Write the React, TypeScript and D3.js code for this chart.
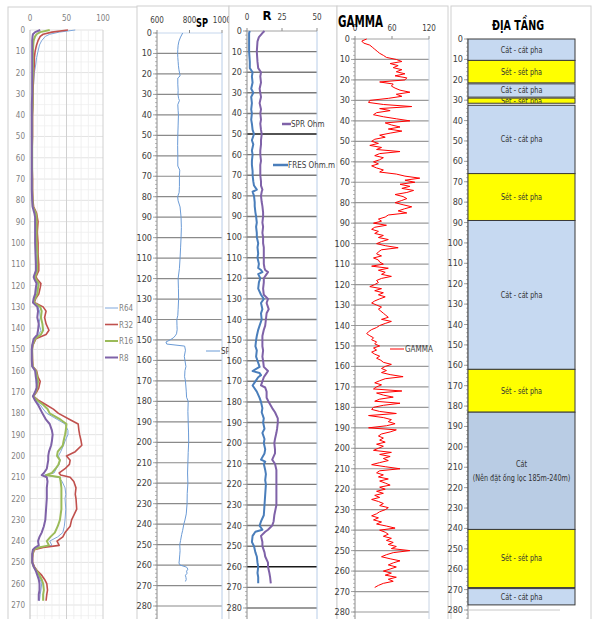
import React from 'react';
import * as d3 from 'd3';

const FONT = '"Liberation Sans Narrow", "DejaVu Sans Condensed", "Liberation Sans", sans-serif';

// ---- panel 1: resistivity curves R64 / R32 / R16 / R8 ----
const p1Depth = [
  0, 1, 2, 3, 5, 7, 10, 13, 16, 20,
  25, 30, 35, 40, 45, 50, 55, 60, 65, 70,
  75, 80, 83, 86, 88, 90, 95, 100, 105, 110,
  113, 116, 117, 119, 121, 124, 126, 128, 130, 132,
  135, 138, 141, 143, 145, 148, 150, 155, 158, 160,
  163, 165, 168, 170, 172, 174, 176, 178, 180, 183,
  185, 188, 190, 193, 195, 198, 200, 202, 204, 206,
  208, 209, 210, 212, 215, 218, 220, 225, 230, 233,
  236, 238, 240, 242, 243, 244, 246, 248, 250, 252,
  254, 256, 258, 260, 263, 265, 268,
];
const r64 = [
  62, 40, 27, 21, 16, 13, 11, 9, 8, 6,
  5, 4, 4, 3.5, 3, 3, 3, 2.5, 2.5, 3,
  3, 3.5, 4, 6, 7, 7, 8, 7.5, 8, 9,
  9, 6, 7, 10, 9, 8, 6, 5, 11, 13,
  14, 12, 15, 12, 6, 3, 2.5, 3, 3, 7,
  9, 8, 10, 7, 4, 8, 14, 18, 23, 38,
  48, 52, 52, 48, 46, 42, 39, 41, 40, 36,
  33, 20, 39, 44, 48, 49, 48, 49, 48, 47,
  45, 38, 27, 30, 12, 5, 3, 3, 3, 5,
  8, 12, 14, 16, 15, 14, 13,
];
const r32 = [
  52, 30, 18, 14, 11, 9, 7, 6, 6, 5,
  4.5, 4, 4, 3.5, 3.5, 3.5, 3, 3, 3, 3.5,
  3.5, 4, 5, 9, 10, 11, 10, 11, 11, 12,
  12, 8, 10, 15, 14, 12, 8, 6, 18, 22,
  20, 22, 26, 22, 8, 4, 3, 3.5, 4, 9,
  11, 14, 12, 9, 5, 12, 22, 32, 39, 55,
  66, 67, 68, 70, 71, 62, 50, 55, 54, 48,
  40, 42, 55, 60, 63, 62, 63, 64, 57, 55,
  48, 45, 37, 40, 18, 6, 4, 3.5, 3.5, 6,
  10, 16, 20, 23, 24, 23, 22,
];
const r16 = [
  27, 14, 9, 7, 5, 4.5, 4, 4, 4, 4,
  3.5, 3.5, 3.5, 3, 3, 3, 3, 3, 3, 3,
  3, 3.5, 4, 8, 9, 9, 9, 9, 10, 10,
  10, 7, 8, 12, 11, 10, 7, 5, 14, 16,
  15, 17, 18, 15, 7, 3.5, 3, 3, 3.5, 8,
  10, 11, 10, 8, 4.5, 10, 18, 24, 27, 42,
  50, 49, 48, 46, 45, 38, 37, 41, 39, 35,
  30, 22, 41, 42, 43, 43, 43, 43, 41, 38,
  34, 28, 23, 26, 12, 5, 3.5, 3, 3, 5,
  9, 13, 16, 18, 19, 18, 18,
];
const r8 = [
  14, 7, 4, 3.5, 3, 3, 3, 3, 3, 3,
  3, 3, 2.5, 2.5, 2.5, 2.5, 2.5, 2.5, 2.5, 2.5,
  2.5, 3, 3.5, 6, 7, 7, 7, 7, 7.5, 8,
  8, 5, 6, 9, 8, 7, 5, 4, 10, 11,
  10, 12, 11, 10, 5, 3, 2.5, 2.5, 3, 7,
  8, 9, 9, 7, 4, 7, 11, 14, 17, 22,
  27, 30, 31, 30, 29, 26, 25, 25, 24, 23,
  19, 16, 23, 24, 23, 23, 23, 22, 21, 19,
  16, 13, 11, 12, 7, 4, 3, 3, 3, 5,
  8, 10, 12, 13, 13, 12, 12,
];
const p1Names = ['R64', 'R32', 'R16', 'R8'];
const p1Colors = ['#7ea7dc', '#c0504d', '#9bbb59', '#7f62a8'];
const p1Widths = [1, 1.6, 2, 2];

// ---- panel 2: SP [depth, value] ----
const spLog: [number, number][] = [
  [0, 758], [2, 745], [4, 735], [6, 730], [8, 728], [10, 727], [12, 728], [14, 730], [16, 732],
  [18, 735], [20, 740], [21, 742], [22, 728], [25, 728], [28, 730], [30, 729], [32, 733], [33, 738],
  [35, 728], [38, 730], [40, 732], [45, 730], [50, 728], [55, 727], [60, 728], [65, 728], [67, 740],
  [70, 738], [75, 738], [78, 736], [80, 727], [82, 730], [85, 742], [90, 748], [95, 750], [100, 748],
  [105, 745], [110, 742], [115, 738], [120, 730], [125, 732], [130, 733], [135, 730], [138, 728],
  [140, 722], [143, 723], [145, 724], [147, 720], [148, 712], [149, 700], [150, 680], [151, 655],
  [152, 660], [153, 770], [155, 775], [158, 768], [160, 772], [163, 778], [165, 772], [168, 770],
  [170, 775], [173, 778], [175, 780], [178, 782], [180, 792], [185, 790], [190, 792], [195, 794],
  [200, 795], [205, 792], [210, 790], [215, 788], [220, 790], [225, 786], [230, 785], [235, 780],
  [238, 772], [240, 765], [243, 758], [245, 752], [248, 745], [250, 740], [253, 742], [255, 740],
  [258, 737], [259, 735], [260, 742], [261, 782], [262, 790], [263, 782], [264, 785], [265, 775],
  [266, 778], [267, 780], [268, 775],
];

// ---- panel 3: [depth, SPR Ohm, FRES Ohm.m] ----
const rLog: [number, number, number][] = [
  [0, 12.5, 2], [1, 11, 1.5], [3, 8.5, 1.5], [5, 7.5, 1.5], [10, 7, 1.5], [15, 7.5, 2], [18, 8, 2],
  [20, 10, 4], [22, 9.5, 3.5], [25, 10, 4], [28, 9, 3], [30, 9.5, 4.5], [32, 10, 3], [35, 9, 3.5],
  [38, 10, 3], [40, 9.5, 3.5], [43, 10, 3], [45, 9.5, 3.5], [48, 10, 4], [50, 10.5, 5], [53, 10, 3.5],
  [55, 10, 4.5], [58, 9.5, 3.5], [60, 9.5, 4], [63, 10, 3.5], [65, 9.5, 3.5], [68, 9.5, 4], [70, 9.5, 4],
  [73, 10, 4.5], [75, 10, 5], [77, 11, 7], [78, 10.5, 4], [80, 10, 5], [83, 10.5, 5.5], [85, 11, 5.5],
  [88, 11.5, 6], [90, 11.5, 6.5], [93, 11, 7], [95, 11.5, 6.5], [98, 11, 7], [100, 11.5, 7],
  [103, 11.5, 8], [105, 12, 7.5], [108, 12, 8], [110, 12, 7.5], [113, 12, 8.5], [115, 12.5, 8],
  [116, 13, 10], [117, 15, 11], [118, 14, 8], [120, 12, 9.5], [122, 12, 8.5], [125, 11.5, 8],
  [128, 12, 10], [130, 15, 12], [132, 14, 10], [135, 15.5, 11], [137, 14, 10], [140, 13.5, 10.5],
  [143, 13, 9], [145, 12, 8], [148, 11, 7], [150, 11, 6.5], [153, 11, 6], [155, 11.5, 7],
  [158, 11, 6.5], [160, 11.5, 7.5], [163, 12, 9], [165, 15, 4], [166, 14, 9], [167, 13, 10],
  [168, 12, 8], [170, 11, 6], [172, 10, 4], [173, 13, 5], [175, 14, 7], [178, 14, 9], [180, 15.5, 10],
  [183, 18, 11], [185, 20, 10.5], [188, 22, 12], [190, 22, 11.5], [193, 21.5, 12.5], [195, 21, 11],
  [198, 20, 12.5], [200, 19.5, 12], [203, 20, 13], [205, 20, 12.5], [208, 18, 10], [209, 19, 13],
  [210, 20, 12], [213, 21, 13], [215, 21, 13.5], [218, 21, 13], [220, 21, 13.5], [225, 21, 13],
  [230, 21, 12.5], [235, 19.5, 12], [238, 19, 10], [240, 18, 9], [242, 15, 11], [243, 13, 6],
  [245, 10, 4], [248, 11, 3.5], [250, 11, 5], [253, 12.5, 6], [255, 13, 7], [258, 15, 7.5],
  [260, 15, 8], [263, 16, 7.5], [265, 16.5, 8], [268, 17, 8],
];

// ---- panel 4: gamma, one reading per metre from 0 m ----
const gamma = [
  19, 11, 14, 24, 28, 32, 36, 40, 46, 51,
  67, 76, 57, 70, 62, 76, 67, 81, 65, 84,
  81, 40, 62, 59, 65, 73, 89, 67, 76, 54,
  24, 22, 46, 92, 40, 57, 35, 30, 46, 67,
  89, 49, 59, 73, 54, 76, 57, 40, 49, 32,
  27, 38, 24, 43, 35, 73, 40, 32, 46, 40,
  30, 38, 27, 35, 46, 40, 67, 81, 105, 81,
  97, 73, 89, 76, 95, 84, 65, 78, 84, 75,
  65, 78, 92, 80, 70, 84, 54, 49, 38, 43,
  30, 51, 32, 27, 38, 32, 46, 38, 54, 43,
  35, 49, 70, 43, 38, 35, 43, 30, 38, 40,
  46, 27, 54, 38, 49, 43, 59, 43, 35, 38,
  32, 24, 43, 32, 46, 38, 49, 40, 32, 27,
  35, 43, 38, 42, 46, 50, 54, 43, 59, 49,
  40, 35, 27, 22, 19, 24, 30, 27, 35, 32,
  40, 30, 35, 27, 32, 40, 35, 42, 46, 59,
  49, 43, 51, 43, 57, 78, 49, 40, 32, 43,
  35, 30, 76, 35, 46, 62, 40, 32, 73, 46,
  30, 27, 40, 67, 22, 46, 59, 54, 65, 51,
  22, 67, 57, 43, 38, 46, 40, 49, 35, 46,
  38, 30, 59, 40, 57, 46, 54, 40, 27, 49,
  73, 40, 35, 46, 38, 54, 40, 49, 57, 40,
  49, 35, 46, 32, 40, 27, 38, 46, 40, 54,
  49, 40, 35, 27, 38, 30, 43, 35, 51, 65,
  40, 49, 54, 46, 59, 51, 62, 54, 67, 59,
  89, 62, 51, 43, 57, 73, 62, 54, 67, 57,
  46, 59, 49, 67, 54, 62, 46, 38, 32,
];

// ---- panel 5: stratigraphy ----
const layerTop = [0, 10.5, 22, 29, 32.5, 66, 89, 162, 183, 240.5, 269.5];
const layerBottom = [10.5, 21.5, 28.5, 31.5, 66, 89, 162, 183, 240.5, 269, 277.5];
const layerKind = ['sand', 'clay', 'sand', 'clay', 'sand', 'clay', 'sand', 'clay', 'filter', 'clay', 'sand'];
const layerLabel = [
  ['Cát - cát pha'], ['Sét - sét pha'], ['Cát - cát pha'], ['Sét - sét pha'], ['Cát - cát pha'],
  ['Sét - sét pha'], ['Cát - cát pha'], ['Sét - sét pha'], ['Cát', '(Nên đặt ống lọc 185m-240m)'],
  ['Sét - sét pha'], ['Cát - cát pha'],
];
const layerFill: Record<string, string> = { sand: '#c6d9f1', clay: '#ffff00', filter: '#b9cce4' };

const depthTicks = d3.range(0, 281, 10);
const p1Ticks = d3.range(0, 271, 10);

type Scale = d3.ScaleLinear<number, number>;

function DepthAxis({ y, x, ticks, bottom, labelColor = '#404040', size = 9 }: {
  y: Scale; x: number; ticks: number[]; bottom: number; labelColor?: string; size?: number;
}) {
  const minors = d3.range(0, 290, 2);
  return (
    <g>
      <line x1={x} x2={x} y1={y(0)} y2={bottom} stroke="#8c8c8c" strokeWidth={1} />
      {minors.map(d => (
        <line key={'m' + d} x1={x - 2} x2={x} y1={y(d)} y2={y(d)} stroke="#8c8c8c" strokeWidth={0.6} />
      ))}
      {ticks.map(d => (
        <g key={d}>
          <line x1={x - 4} x2={x} y1={y(d)} y2={y(d)} stroke="#8c8c8c" strokeWidth={0.8} />
          <text x={x - 5} y={y(d) + 3} fontSize={size} textAnchor="end" fill={labelColor}>{d}</text>
        </g>
      ))}
    </g>
  );
}

export default function App() {
  const H = 619;

  // panel 1
  const x1 = d3.scaleLinear().domain([0, 100]).range([30, 103]);
  const y1 = d3.scaleLinear().domain([0, 270]).range([30, 605]);
  const p1Values = [r64, r32, r16, r8];
  const p1Line = d3.line<[number, number]>().x(d => x1(d[1])).y(d => y1(d[0]));

  // panel 2
  const x2 = d3.scaleLinear().domain([600, 1000]).range([157, 222]);
  const y2 = d3.scaleLinear().domain([0, 280]).range([33, 606]);
  const spLine = d3.line<[number, number]>().x(d => x2(d[1])).y(d => y2(d[0]));

  // panel 3
  const x3 = d3.scaleLinear().domain([0, 50]).range([247, 317]);
  const y3 = d3.scaleLinear().domain([0, 280]).range([31, 608]);
  const sprLine = d3.line<[number, number, number]>().x(d => x3(d[1])).y(d => y3(d[0]));
  const fresLine = d3.line<[number, number, number]>().x(d => x3(d[2])).y(d => y3(d[0]));

  // panel 4
  const x4 = d3.scaleLinear().domain([0, 120]).range([355, 429]);
  const y4 = d3.scaleLinear().domain([0, 280]).range([39, 612]);
  const gammaLine = d3.line<number>().x(d => x4(d)).y((_, i) => y4(i));

  // panel 5
  const y5 = d3.scaleLinear().domain([0, 280]).range([39, 610]);
  const bx0 = 468, bx1 = 575;
  const bcx = (bx0 + bx1) / 2;

  return (
    <svg width={602} height={H} style={{ position: 'absolute', left: 0, top: 0, fontFamily: FONT, background: '#fff' }}>
      <defs>
        {layerTop.map((t, i) => (
          <clipPath key={i} id={'lay' + i}>
            <rect x={bx0} y={y5(t)} width={bx1 - bx0} height={y5(layerBottom[i]) - y5(t)} />
          </clipPath>
        ))}
      </defs>
      <rect x={0} y={0} width={602} height={H} fill="#fff" />

      {/* ---------- panel 1 ---------- */}
      <g>
        <rect x={8} y={7} width={130} height={H} fill="#fff" stroke="#d0d0d0" />
        {d3.range(0, 290, 5).map(d => (
          <line key={'h' + d} x1={x1(0)} x2={x1(100)} y1={y1(d)} y2={y1(d)}
            stroke={d % 10 === 0 ? '#dcdcdc' : '#f0f0f0'} strokeWidth={0.8} />
        ))}
        {d3.range(10, 101, 10).map(v => (
          <line key={'v' + v} x1={x1(v)} x2={x1(v)} y1={y1(0)} y2={H}
            stroke={v % 50 === 0 ? '#d0d0d0' : '#ededed'} strokeWidth={v % 50 === 0 ? 1 : 0.8} />
        ))}
        <line x1={x1(0)} x2={x1(0)} y1={y1(0)} y2={H} stroke="#bdbdbd" />
        {[0, 50, 100].map(v => (
          <text key={v} x={x1(v)} y={21} fontSize={8} textAnchor="middle" fill="#7f7f7f">{v}</text>
        ))}
        {p1Ticks.map(d => (
          <text key={d} x={25} y={y1(d) + 3} fontSize={8} textAnchor="end" fill="#7f7f7f">{d}</text>
        ))}
        {p1Values.map((vals, k) => (
          <path key={k} d={p1Line(p1Depth.map((d, i) => [d, vals[i]] as [number, number])) ?? ''}
            fill="none" stroke={p1Colors[k]} strokeWidth={p1Widths[k]} strokeLinejoin="round" />
        ))}
        {p1Names.map((n, k) => (
          <g key={n}>
            <line x1={105} x2={118} y1={308 + k * 16.5} y2={308 + k * 16.5} stroke={p1Colors[k]} strokeWidth={p1Widths[k]} />
            <text x={119} y={311 + k * 16.5} fontSize={8} fill="#7f7f7f">{n}</text>
          </g>
        ))}
      </g>

      {/* ---------- panel 2: SP ---------- */}
      <g>
        <rect x={137} y={6} width={92} height={H} fill="#fff" stroke="#d0d0d0" />
        {depthTicks.filter(d => d > 0).map(d => (
          <line key={d} x1={x2(600)} x2={x2(1000)} y1={y2(d)} y2={y2(d)} stroke="#8a8a8a" strokeWidth={1.2} />
        ))}
        <line x1={x2(1000)} x2={x2(1000)} y1={y2(0)} y2={H} stroke="#b8cde8" />
        <line x1={x2(600)} x2={x2(1000)} y1={y2(0)} y2={y2(0)} stroke="#b8cde8" strokeWidth={0.8} />
        {[600, 800, 1000].map(v => (
          <g key={v}>
            <line x1={x2(v)} x2={x2(v)} y1={y2(0) - 3} y2={y2(0)} stroke="#8c8c8c" />
            <text x={x2(v)} y={23} fontSize={8} textAnchor="middle" fill="#404040">{v}</text>
          </g>
        ))}
        <DepthAxis y={y2} x={x2(600)} ticks={depthTicks} bottom={H} />
        <text x={196} y={27} fontSize={13} fontWeight="bold" fill="#000"
          textLength={12} lengthAdjust="spacingAndGlyphs">SP</text>
        <path d={spLine(spLog) ?? ''} fill="none" stroke="#6b9bd6" strokeWidth={1} />
        <line x1={206} x2={220} y1={351} y2={351} stroke="#6b9bd6" strokeWidth={1} />
        <text x={221} y={354} fontSize={8} fill="#404040">SP</text>
      </g>

      {/* ---------- panel 3: R ---------- */}
      <g>
        <rect x={229} y={6} width={108} height={H} fill="#fff" stroke="#d0d0d0" />
        {depthTicks.filter(d => d > 0).map(d => (
          <line key={d} x1={x3(0)} x2={x3(50)} y1={y3(d)} y2={y3(d)}
            stroke={d === 50 || d === 260 ? '#1a1a1a' : '#7a7a7a'} strokeWidth={1.4} />
        ))}
        <line x1={x3(50)} x2={x3(50)} y1={y3(0)} y2={H} stroke="#b8cde8" />
        {[0, 25, 50].map(v => (
          <g key={v}>
            <line x1={x3(v)} x2={x3(v)} y1={y3(0) - 3} y2={y3(0)} stroke="#8c8c8c" />
            <text x={x3(v)} y={20} fontSize={8} textAnchor="middle" fill="#404040">{v}</text>
          </g>
        ))}
        <line x1={x3(0)} x2={x3(50)} y1={y3(0)} y2={y3(0)} stroke="#8c8c8c" strokeWidth={0.8} />
        <DepthAxis y={y3} x={x3(0)} ticks={depthTicks} bottom={H} />
        <text x={267} y={20} fontSize={13} fontWeight="bold" textAnchor="middle" fill="#000">R</text>
        <path d={fresLine(rLog) ?? ''} fill="none" stroke="#4a7ebb" strokeWidth={2} strokeLinejoin="round" />
        <path d={sprLine(rLog) ?? ''} fill="none" stroke="#7f62a8" strokeWidth={2} strokeLinejoin="round" />
        <line x1={282} x2={291} y1={124} y2={124} stroke="#7f62a8" strokeWidth={2.5} />
        <text x={291} y={127} fontSize={8} fill="#404040">SPR Ohm</text>
        <line x1={273} x2={288} y1={165} y2={165} stroke="#4a7ebb" strokeWidth={2.5} />
        <text x={288} y={168} fontSize={8} fill="#404040">FRES Ohm.m</text>
      </g>

      {/* ---------- panel 4: GAMMA ---------- */}
      <g>
        <rect x={337} y={6} width={111} height={H} fill="#fff" stroke="#d0d0d0" />
        {depthTicks.filter(d => d > 0).map(d => (
          <line key={d} x1={x4(0)} x2={x4(120)} y1={y4(d)} y2={y4(d)} stroke="#9a9a9a" strokeWidth={1.2} />
        ))}
        <line x1={x4(120)} x2={x4(120)} y1={y4(0)} y2={H} stroke="#c8d4e4" />
        {[0, 60, 120].map(v => (
          <g key={v}>
            <line x1={x4(v)} x2={x4(v)} y1={y4(0) - 3} y2={y4(0)} stroke="#8c8c8c" />
            <text x={x4(v)} y={31} fontSize={8} textAnchor="middle" fill="#404040">{v}</text>
          </g>
        ))}
        <line x1={x4(0)} x2={x4(120)} y1={y4(0)} y2={y4(0)} stroke="#8c8c8c" strokeWidth={0.8} />
        <DepthAxis y={y4} x={x4(0)} ticks={depthTicks} bottom={H} />
        <text x={338} y={27} fontSize={16} fontWeight="bold" fill="#000"
          textLength={45} lengthAdjust="spacingAndGlyphs">GAMMA</text>
        <path d={gammaLine(gamma) ?? ''} fill="none" stroke="#ff0000" strokeWidth={1} strokeLinejoin="round" />
        <line x1={390} x2={404} y1={349} y2={349} stroke="#ff0000" strokeWidth={1} />
        <text x={405} y={352} fontSize={8} fill="#404040">GAMMA</text>
      </g>

      {/* ---------- panel 5: ĐỊA TẦNG ---------- */}
      <g>
        <rect x={451} y={6} width={140} height={H} fill="#fff" stroke="#d0d0d0" />
        <DepthAxis y={y5} x={bx0} ticks={depthTicks} bottom={H} />
        <line x1={bx0} x2={560} y1={y5(280)} y2={y5(280)} stroke="#c8c8c8" />
        <text x={492} y={30} fontSize={14} fontWeight="bold" fill="#000"
          textLength={52} lengthAdjust="spacingAndGlyphs">ĐỊA TẦNG</text>
        {layerTop.map((t, i) => {
          const top = y5(t), bot = y5(layerBottom[i]);
          const lines = layerLabel[i];
          const mid = (top + bot) / 2;
          return (
            <g key={i}>
              <rect x={bx0} y={top} width={bx1 - bx0} height={bot - top}
                fill={layerFill[layerKind[i]]} stroke="#3a3a3a" strokeWidth={1} />
              <g clipPath={`url(#lay${i})`}>
                <g transform={`translate(${bcx},0) scale(0.8,1)`}>
                  <text fontSize={9} textAnchor="middle" fill="#333">
                    {lines.map((l, j) => (
                      <tspan key={j} x={0} y={mid + 3 + (j - (lines.length - 1) / 2) * 14}>{l}</tspan>
                    ))}
                  </text>
                </g>
              </g>
            </g>
          );
        })}
      </g>
    </svg>
  );
}
